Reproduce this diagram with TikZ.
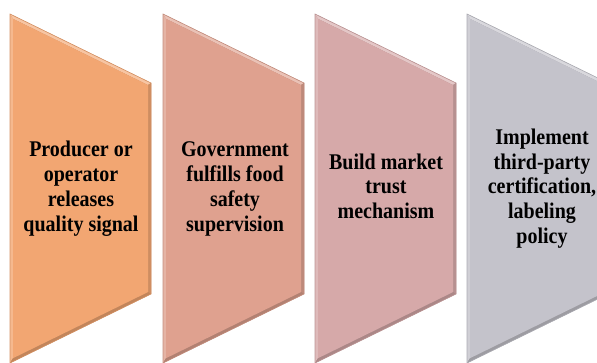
\documentclass[tikz,border=0pt]{standalone}
\usepackage{fontspec}
\setmainfont{Liberation Serif}
\definecolor{cOrange}{HTML}{F2A672}
\definecolor{cSalmon}{HTML}{DFA18F}
\definecolor{cPink}{HTML}{D6A9A9}
\definecolor{cGrey}{HTML}{C4C3CB}
\newcommand{\mychev}[2]{%
  \begin{scope}[shift={(#1,0)}]
    \fill[#2!78!black] (0,14) -- (141,83) -- (141,294) -- (0,363) -- cycle;
    \fill[#2!65!white] (0,14) -- (141,83) -- (138,85) -- (3,18.8) -- cycle;
    \fill[#2!80!white] (0,14) -- (3,18.8) -- (3,358.2) -- (0,363) -- cycle;
    \fill[#2!85!black] (141,83) -- (141,294) -- (138,292.1) -- (138,85) -- cycle;
    \fill[#2!80!black] (141,294) -- (0,363) -- (3,358.2) -- (138,292.1) -- cycle;
    \fill[#2] (3,18.8) -- (138,85) -- (138,292.1) -- (3,358.2) -- cycle;
    \draw[#2!88!black, line width=0.6pt] (0,14) -- (141,83) -- (141,294) -- (0,363) -- cycle;
  \end{scope}}
\newcommand{\steplines}[1]{\scalebox{1}[1.12]{\fontsize{20}{22.3}\selectfont\bfseries\begin{tabular}{@{}c@{}}#1\end{tabular}}}
\tikzset{steptext/.style={text=black, inner sep=0pt}}
\begin{document}
\begin{tikzpicture}[x=1pt,y=-1pt]
  \useasboundingbox (0,0) rectangle (597,363);
  \fill[white] (0,0) rectangle (597,363);
  \clip (0,0) rectangle (597,363);
  \mychev{10}{cOrange}
  \mychev{163}{cSalmon}
  \mychev{315}{cPink}
  \mychev{467}{cGrey}
  \node[steptext] (t1) at (81,189) {\steplines{Producer or\\operator\\releases\\quality signal}};
  \node[steptext] (t2) at (235,189) {\steplines{Government\\fulfills food\\safety\\supervision}};
  \node[steptext] (t3) at (386,189) {\steplines{Build market\\trust\\mechanism}};
  \node[steptext] (t4) at (542,189) {\steplines{Implement\\third-party\\certification,\\labeling\\policy}};
\end{tikzpicture}
\end{document}
